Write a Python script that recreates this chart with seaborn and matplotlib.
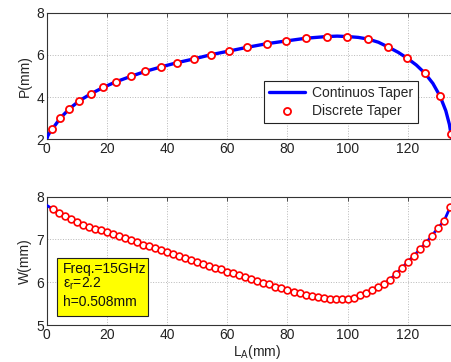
import numpy as np
import pandas as pd
import matplotlib
matplotlib.use("Agg")
import matplotlib.pyplot as plt
from matplotlib.patches import Rectangle
import seaborn as sns

# ---- data ----
p_disc_x = [1.9, 4.5, 7.5, 10.8, 14.6, 18.8, 23.1, 27.9, 32.8, 38.0, 43.3, 48.9, 54.6,
            60.5, 66.6, 73.1, 79.5, 86.1, 93.0, 99.9, 106.8, 113.5, 119.8, 125.6, 130.7, 134.3]
p_disc_y = [2.49, 3.00, 3.44, 3.82, 4.15, 4.46, 4.73, 4.98, 5.22, 5.43, 5.63, 5.81, 6.01,
            6.18, 6.36, 6.53, 6.66, 6.79, 6.87, 6.87, 6.75, 6.37, 5.84, 5.14, 4.04, 2.25]

p_line_x = [0.0, 0.4, 1.0, 1.9, 4.5, 7.5, 10.8, 14.6, 18.8, 23.1, 27.9, 32.8, 38.0, 43.3,
            48.9, 54.6, 60.5, 66.6, 73.1, 79.5, 86.1, 93.0, 96.5, 99.9, 103.5, 106.8, 110.2,
            113.5, 116.8, 119.8, 122.8, 125.6, 128.3, 130.7, 132.6, 133.8, 134.6]
p_line_y = [2.00, 2.17, 2.32, 2.49, 3.00, 3.44, 3.82, 4.15, 4.46, 4.73, 4.98, 5.22, 5.43, 5.63,
            5.81, 6.01, 6.18, 6.36, 6.53, 6.66, 6.79, 6.87, 6.89, 6.87, 6.83, 6.75, 6.60,
            6.37, 6.12, 5.84, 5.52, 5.14, 4.65, 4.04, 3.35, 2.70, 2.00]

w_x = [2, 4, 6, 8, 10, 12, 14, 16, 18, 20, 22, 24, 26, 28, 30, 32, 34, 36, 38, 40,
       42, 44, 46, 48, 50, 52, 54, 56, 58, 60, 62, 64, 66, 68, 70, 72, 74, 76, 78, 80,
       82, 84, 86, 88, 90, 92, 94, 96, 98, 100, 102, 104, 106, 108, 110, 112, 114, 116,
       118, 120, 122, 124, 126, 128, 130, 132, 134]
w_y = [7.71, 7.62, 7.54, 7.47, 7.41, 7.35, 7.30, 7.25, 7.21, 7.17, 7.12, 7.07, 7.03, 6.98,
       6.93, 6.88, 6.84, 6.79, 6.75, 6.70, 6.66, 6.61, 6.57, 6.52, 6.48, 6.43, 6.39, 6.34,
       6.30, 6.25, 6.21, 6.17, 6.12, 6.08, 6.04, 5.99, 5.95, 5.90, 5.86, 5.82, 5.78, 5.74,
       5.71, 5.68, 5.65, 5.63, 5.61, 5.60, 5.60, 5.61, 5.64, 5.69, 5.75, 5.82, 5.89, 5.96,
       6.06, 6.19, 6.33, 6.48, 6.62, 6.77, 6.92, 7.09, 7.27, 7.43, 7.75]
w_line_x = [0.0] + w_x + [134.7]
w_line_y = [7.80] + w_y + [7.80]

x_ticks = [0, 20, 40, 60, 80, 100, 120]
p_ticks = [2, 4, 6, 8]
w_ticks = [5, 6, 7, 8]

info_lines = ["Freq.=15GHz", r"$\epsilon_r$=2.2", "h=0.508mm"]

# ---- style ----
sns.set_theme(style="white")
plt.rcParams['font.family'] = ['Liberation Sans', 'DejaVu Sans']
plt.rcParams['mathtext.fontset'] = 'custom'
plt.rcParams['mathtext.rm'] = 'Liberation Sans'
plt.rcParams['mathtext.it'] = 'Liberation Sans:italic'
plt.rcParams['mathtext.default'] = 'regular'

FS = 10
AX_COL = '#333333'

fig = plt.figure(figsize=(4.51, 3.62), dpi=100)
ax1 = fig.add_axes([0.1035, 0.6152, 0.9344, 0.3497])
ax2 = fig.add_axes([0.1035, 0.1022, 0.9344, 0.3544])

def style_axes(ax, yticks, ylim):
    ax.set_xlim(0, 140)
    ax.set_ylim(*ylim)
    ax.set_xticks(x_ticks)
    ax.set_yticks(yticks)
    ax.grid(True, linestyle=':', color='#b8b8b8', linewidth=0.7)
    ax.tick_params(direction='in', length=3, width=0.6, colors=AX_COL,
                   labelsize=FS, labelcolor='#222222', top=True, right=True, pad=2)
    for s in ax.spines.values():
        s.set_color(AX_COL)
        s.set_linewidth(0.8)
    ax.set_facecolor('white')

# top panel
dp_line = pd.DataFrame({'x': p_line_x, 'y': p_line_y})
dp_disc = pd.DataFrame({'x': p_disc_x, 'y': p_disc_y})
sns.lineplot(data=dp_line, x='x', y='y', ax=ax1, color='#0000ff', linewidth=2.4,
             sort=False, estimator=None, label='Continuos Taper', zorder=3)
sns.scatterplot(data=dp_disc, x='x', y='y', ax=ax1, marker='o', s=26,
                facecolors='white', edgecolor='#ff0000', linewidth=1.3,
                label='Discrete Taper', zorder=4, clip_on=False)
style_axes(ax1, p_ticks, (2, 8))
ax1.set_xlabel('')
ax1.set_ylabel('P(mm)', fontsize=FS, labelpad=3)
leg = ax1.legend(loc='lower right', bbox_to_anchor=(0.881, 0.129), fontsize=FS,
                 frameon=True, fancybox=False, shadow=False, framealpha=1,
                 edgecolor='#222222', handlelength=2.6, labelspacing=0.3,
                 borderpad=0.35, handletextpad=0.5, borderaxespad=0)
leg.get_frame().set_linewidth(0.8)

# bottom panel
dw_line = pd.DataFrame({'x': w_line_x, 'y': w_line_y})
dw_disc = pd.DataFrame({'x': w_x, 'y': w_y})
sns.lineplot(data=dw_line, x='x', y='y', ax=ax2, color='#0000ff', linewidth=2.0,
             sort=False, estimator=None, zorder=3)
sns.scatterplot(data=dw_disc, x='x', y='y', ax=ax2, marker='o', s=24,
                facecolors='white', edgecolor='#ff0000', linewidth=1.2, zorder=4)
style_axes(ax2, w_ticks, (5, 8))
ax2.set_xlabel(r'L$_\mathrm{A}$(mm)', fontsize=FS, labelpad=1)
ax2.set_ylabel('W(mm)', fontsize=FS, labelpad=3)

rect = Rectangle((0.0244, 0.070), 0.2156, 0.455, transform=ax2.transAxes,
                 facecolor='#ffff00', edgecolor='#222222', linewidth=0.8, zorder=5)
ax2.add_patch(rect)
ys = [0.440, 0.320, 0.180]
for t, yy in zip(info_lines, ys):
    ax2.text(0.039, yy, t, transform=ax2.transAxes, fontsize=FS, color='#111111',
             ha='left', va='center', zorder=6)

fig.savefig('out.png', dpi=100)
